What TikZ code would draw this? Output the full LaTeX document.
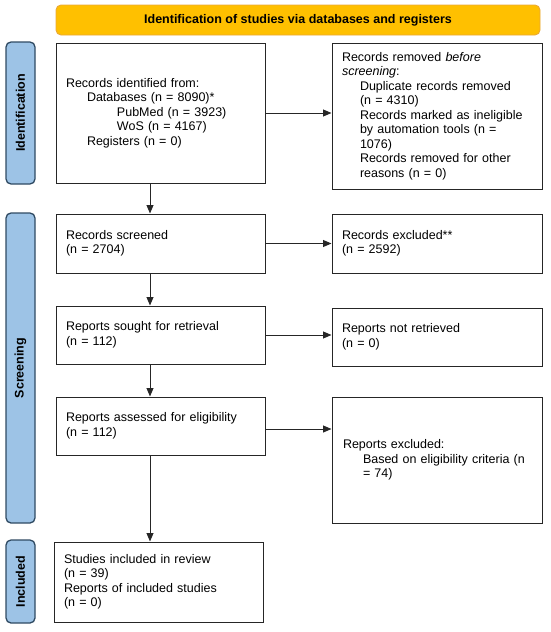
\documentclass[tikz,border=0pt]{standalone}
\usepackage{fontspec}
\setmainfont{Liberation Sans}
\usetikzlibrary{arrows.meta,calc}
\definecolor{bannerfill}{HTML}{FFC000}
\definecolor{bannerdraw}{HTML}{E9A93A}
\definecolor{sidefill}{HTML}{9DC3E6}
\definecolor{sidedraw}{HTML}{2F4A62}
\definecolor{boxdraw}{HTML}{262626}
\tikzset{
  txt/.style={font=\fontsize{12.5}{14.5}\selectfont},
  box/.style={txt, draw=boxdraw, line width=1pt, fill=white, inner xsep=10pt, inner ysep=2pt, align=left, anchor=center},
  banner/.style={draw=bannerdraw, fill=bannerfill, line width=0.9pt, rounded corners=5pt, font=\fontsize{12.5}{14.5}\selectfont\bfseries},
  side/.style={draw=sidedraw, fill=sidefill, line width=1.3pt, rounded corners=5pt, font=\fontsize{12.5}{14.5}\selectfont\bfseries, rotate=90},
  arr/.style={-{Triangle[length=8.5pt,width=7pt]}, line width=1pt, draw=boxdraw},
}
\begin{document}
\begin{tikzpicture}[x=1pt,y=-1pt]
\useasboundingbox (0,0) rectangle (550,632);
% banner
\node[banner, minimum width=484pt, minimum height=30pt] (ban) at (298,20) {Identification of studies via databases and registers};
% side labels
\node[side, minimum width=142pt, minimum height=29pt] (sid) at (20.5,113) {Identification};
\node[side, minimum width=310pt, minimum height=29pt] (sscr) at (20.5,368) {Screening};
\node[side, minimum width=83pt, minimum height=29pt] (sinc) at (20.5,581.5) {Included};
% boxes
\node[box, minimum width=209pt, text width=189pt, minimum height=140pt] (A) at (160.5,113) {Records identified from:\\
\hspace*{21pt}Databases (n = 8090)*\\
\hspace*{51pt}PubMed (n = 3923)\\
\hspace*{51pt}WoS (n = 4167)\\
\hspace*{21pt}Registers (n = 0)};
\node[box, minimum width=210pt, text width=190pt, minimum height=146pt] (B) at (437,116) {Records removed \textit{before}\\
\textit{screening}:\\
\hspace*{18pt}Duplicate records removed\\
\hspace*{18pt}(n = 4310)\\
\hspace*{18pt}Records marked as ineligible\\
\hspace*{18pt}by automation tools (n =\\
\hspace*{18pt}1076)\\
\hspace*{18pt}Records removed for other\\
\hspace*{18pt}reasons (n = 0)};
\node[box, minimum width=209pt, text width=189pt, minimum height=59pt] (C) at (160.5,243.5) {Records screened\\(n = 2704)};
\node[box, minimum width=210pt, text width=190pt, minimum height=59pt] (D) at (437,243.5) {Records excluded**\\(n = 2592)};
\node[box, minimum width=209pt, text width=189pt, minimum height=58pt] (E) at (160.5,335) {Reports sought for retrieval\\(n = 112)};
\node[box, minimum width=210pt, text width=190pt, minimum height=58pt] (F) at (437,337) {Reports not retrieved\\(n = 0)};
\node[box, minimum width=209pt, text width=189pt, minimum height=58pt] (G) at (160.5,426) {Reports assessed for eligibility\\(n = 112)};
\node[box, minimum width=210pt, text width=188pt, minimum height=126pt, inner xsep=11pt] (H) at (437,460) {Reports excluded:\\
\hspace*{20pt}Based on eligibility criteria (n\\
\hspace*{20pt}= 74)};
\node[box, minimum width=209pt, text width=189pt, minimum height=80pt] (I) at (158.5,582) {Studies included in review\\(n = 39)\\Reports of included studies\\(n = 0)};
% connectors
\coordinate (col) at (150,0);
\draw[arr] (A.south -| col) -- (C.north -| col);
\draw[arr] (C.south -| col) -- (E.north -| col);
\draw[arr] (E.south -| col) -- (G.north -| col);
\draw[arr] (G.south -| col) -- (I.north -| col);
\draw[arr] (A.east) -- (A.east -| B.west);
\draw[arr] (C.east) -- (C.east -| D.west);
\draw[arr] (E.east) -- (E.east -| F.west);
\draw[arr] ($(G.east)+(0,3)$) -- ($(G.east -| H.west)+(0,3)$);
\end{tikzpicture}
\end{document}
